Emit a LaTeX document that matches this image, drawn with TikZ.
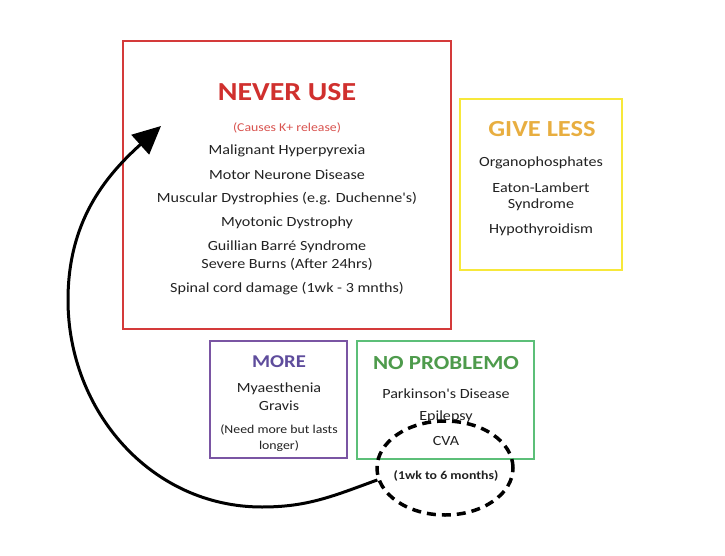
\documentclass[tikz,border=0pt]{standalone}
\usepackage{fontspec}
\setmainfont{Carlito}[FakeStretch=1.15, Ligatures=TeXOff]
\usetikzlibrary{shapes.geometric,arrows.meta}
\definecolor{redbox}{HTML}{D43A3A}
\definecolor{redtxt}{HTML}{D0302E}
\definecolor{pinktxt}{HTML}{D9534F}
\definecolor{yelbox}{HTML}{F7E83A}
\definecolor{goldtxt}{HTML}{E8AE40}
\definecolor{purbox}{HTML}{7A55A3}
\definecolor{purtxt}{HTML}{5E4C9C}
\definecolor{grnbox}{HTML}{5CBF78}
\definecolor{grntxt}{HTML}{4E9B4C}
\definecolor{bodytxt}{HTML}{222222}
\tikzset{
  box/.style={draw, line width=2pt, inner sep=0pt},
  body/.style={text=bodytxt, font=\fontsize{14}{16}\selectfont, inner sep=0pt, anchor=center},
  small/.style={text=bodytxt, font=\fontsize{12}{14}\selectfont, inner sep=0pt, anchor=center},
  head/.style={font=\bfseries, inner sep=0pt, anchor=center},
}
\begin{document}
\begin{tikzpicture}[x=1pt,y=-1pt]
\fill[white] (0,0) rectangle (725,556);
\useasboundingbox (0,0) rectangle (725,556);
% boxes
\draw[box, redbox] (123,41) rectangle (451,329);
\draw[box, yelbox] (460,99) rectangle (622,270);
\draw[box, purbox] (210,341) rectangle (347,458);
\draw[box, grnbox] (357,341) rectangle (534,459);
% NEVER USE
\node[head, text=redtxt, font=\bfseries\fontsize{26}{28}\selectfont] (nu) at (287,92) {NEVER USE};
\node[text=pinktxt, font=\fontsize{12}{13}\selectfont, inner sep=0pt] (nu0) at (287,128) {(Causes K+ release)};
\node[body] (nu1) at (287,151) {Malignant Hyperpyrexia};
\node[body] (nu2) at (287,175) {Motor Neurone Disease};
\node[body] (nu3) at (287,199) {Muscular Dystrophies (e.g. Duchenne's)};
\node[body] (nu4) at (287,223) {Myotonic Dystrophy};
\node[body] (nu5) at (287,247) {Guillian Barré Syndrome};
\node[body] (nu6) at (287,264) {Severe Burns (After 24hrs)};
\node[body] (nu7) at (287,289) {Spinal cord damage (1wk - 3 mnths)};
% GIVE LESS
\node[head, text=goldtxt, font=\bfseries\fontsize{23}{24}\selectfont] (gl) at (542,129) {GIVE LESS};
\node[body] (gl1) at (541,163) {Organophosphates};
\node[body] (gl2) at (541,188) {Eaton-Lambert};
\node[body] (gl3) at (541,205) {Syndrome};
\node[body] (gl4) at (541,230) {Hypothyroidism};
% MORE
\node[head, text=purtxt, font=\bfseries\fontsize{18}{20}\selectfont] (mo) at (279,362) {MORE};
\node[body] (mo1) at (279,389) {Myaesthenia};
\node[body] (mo2) at (279,406) {Gravis};
\node[small] (mo3) at (279,430) {(Need more but lasts};
\node[small] (mo4) at (279,446) {longer)};
% NO PROBLEMO
\node[head, text=grntxt, font=\bfseries\fontsize{20}{22}\selectfont] (np) at (446,363) {NO PROBLEMO};
\node[body] (np1) at (446,394) {Parkinson's Disease};
\node[body] (np2) at (446,417) {Epilepsy};
\node[body] (np3) at (446,441) {CVA};
% dashed ellipse
\node[draw, ellipse, line width=3.5pt, dash pattern=on 9pt off 6pt, minimum width=136pt, minimum height=94pt, inner sep=0pt] (ell) at (445,468) {};
\node[small, font=\bfseries\fontsize{12}{13}\selectfont] (ell1) at (446,476) {(1wk to 6 months)};
% arrow
\coordinate (tip) at (161,126);
\coordinate (bot) at (262,507);
\coordinate (lft) at (68,300);
\draw[line width=3pt, -{Triangle[length=28pt,width=26pt]}]
  (ell.190) to[out=200, in=0] (bot) to[out=180, in=270] (lft) to[out=90, in=222] (tip);
\end{tikzpicture}
\end{document}
